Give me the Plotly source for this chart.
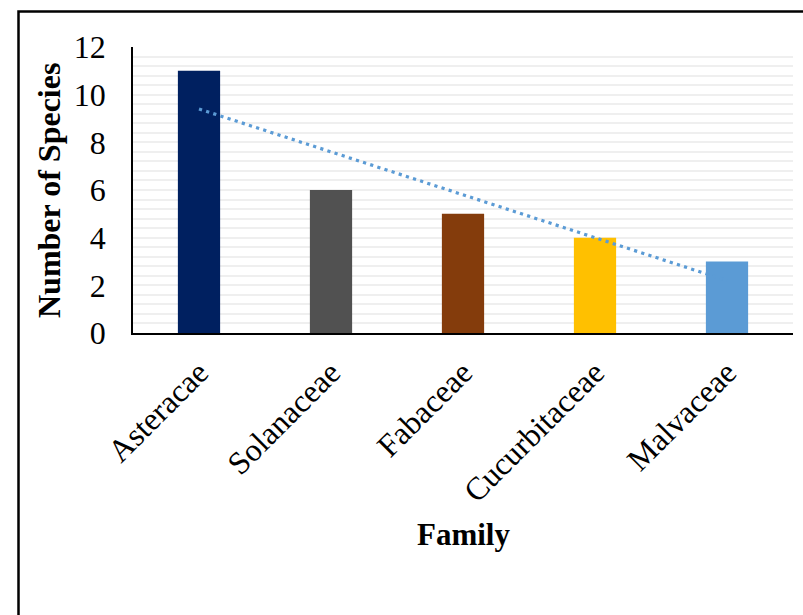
import numpy as np
import plotly.graph_objects as go

# Species count per plant family
families = ["Asteracae", "Solanaceae", "Fabaceae", "Cucurbitaceae", "Malvaceae"]
species = [11, 6, 5, 4, 3]
bar_colors = ["#002060", "#515151", "#843C0C", "#FFC000", "#5B9BD5"]
y_ticks = [0, 2, 4, 6, 8, 10, 12]

# Linear trend through the bars (index 1..n)
idx = np.arange(1, len(species) + 1)
slope, intercept = np.polyfit(idx, species, 1)
trend = slope * idx + intercept

W, H = 803, 615
L, T, R, B = 133, 47, 10, 282  # margins in px
pw, ph = W - L - R, H - T - B


def px_x(px):
    return (px - L) / pw


def px_y(py):
    return (H - B - py) / ph


serif = "Liberation Serif, Times New Roman, serif"

fig = go.Figure()
fig.add_trace(go.Bar(
    x=families, y=species, marker=dict(color=bar_colors, line=dict(width=0)),
    width=0.32, showlegend=False, hoverinfo="x+y",
))
fig.add_trace(go.Scatter(
    x=families, y=trend, mode="lines",
    line=dict(color="#5B9BD5", width=3.2, dash="3.2px,4.3px"),
    showlegend=False, hoverinfo="skip",
))

fig.update_layout(
    width=W, height=H,
    margin=dict(l=L, r=R, t=T, b=B),
    paper_bgcolor="white", plot_bgcolor="white",
    font=dict(family=serif, color="black"),
    bargap=0.68,
    xaxis=dict(
        type="category", tickangle=-45, showgrid=False,
        showline=True, linecolor="black", linewidth=2,
        tickfont=dict(size=32, family=serif, color="black"),
        ticks="", ticklabelstandoff=6,
    ),
    yaxis=dict(
        range=[0, 12], tickvals=y_ticks, showline=True, linecolor="black",
        linewidth=1.5, gridcolor="#EFEFEF", gridwidth=2,
        minor=dict(dtick=0.4, showgrid=True, gridcolor="#EFEFEF", gridwidth=2),
        tickfont=dict(size=32, family=serif, color="black"),
        ticks="", ticklabelstandoff=19, zeroline=False,
    ),
    annotations=[
        dict(text="<b>Number of Species</b>", textangle=-90,
             x=px_x(49), y=px_y(191), xref="paper", yref="paper",
             showarrow=False, font=dict(size=32, family=serif, color="black"),
             xanchor="center", yanchor="middle"),
        dict(text="<b>Family</b>",
             x=px_x(463), y=px_y(534), xref="paper", yref="paper",
             showarrow=False, font=dict(size=31, family=serif, color="black"),
             xanchor="center", yanchor="middle"),
    ],
    shapes=[
        dict(type="rect", xref="paper", yref="paper",
             x0=px_x(18.5), x1=px_x(W + 20), y0=px_y(H + 20), y1=px_y(11.5),
             line=dict(color="black", width=2.5), fillcolor="rgba(0,0,0,0)",
             layer="above"),
    ],
)

fig.write_html("out.html")
